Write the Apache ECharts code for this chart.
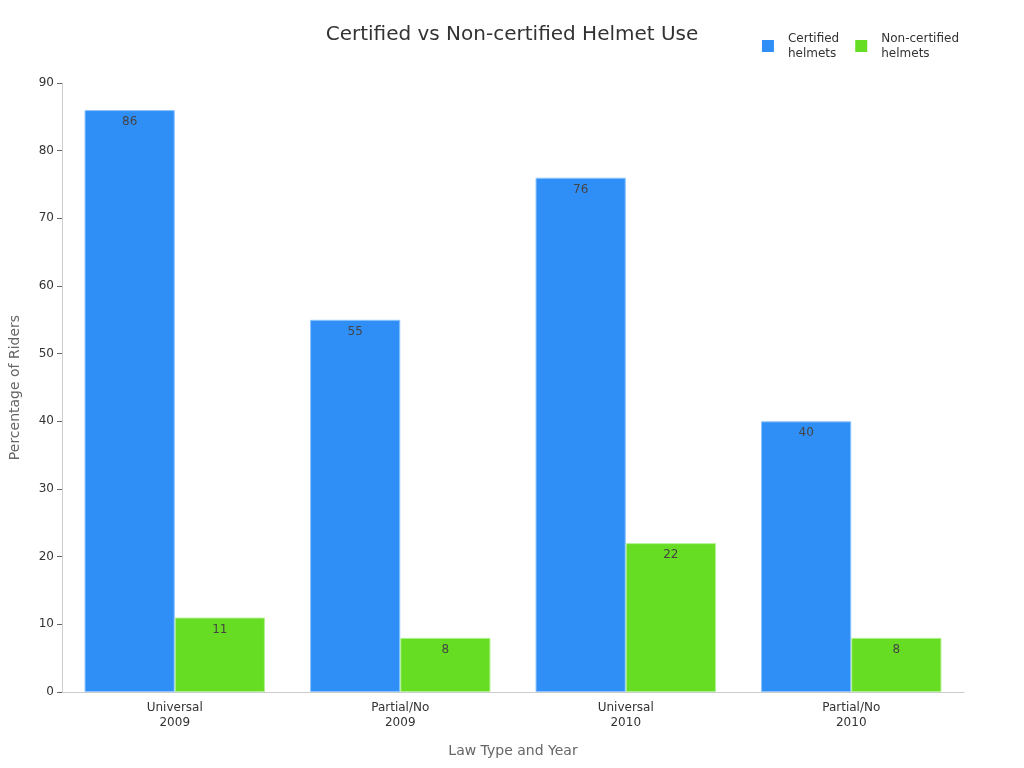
<!DOCTYPE html>
<html><head><meta charset="utf-8">
<script src="https://cdn.jsdelivr.net/npm/echarts@6/dist/echarts.min.js"></script>
<style>html,body{margin:0;padding:0;background:#fff}#c{width:1024px;height:768px}</style>
</head><body><div id="c"></div>
<script>
const categories = ["Universal\n2009", "Partial/No\n2009", "Universal\n2010", "Partial/No\n2010"];
const certified = [86, 55, 76, 40];
const nonCertified = [11, 8, 22, 8];
const seriesNames = ["Certified\nhelmets", "Non-certified\nhelmets"];
const yTicks = {min: 0, max: 90, interval: 10};

const chart = echarts.init(document.getElementById('c'));
const font = 'DejaVu Sans';
const labelCfg = {show: true, position: 'insideTop', color: '#444', fontSize: 12, fontFamily: font, distance: 6};
chart.setOption({
  animation: false,
  textStyle: {fontFamily: font},
  title: {text: 'Certified vs Non-certified Helmet Use', left: 'center', top: 20,
    textStyle: {fontSize: 20, fontWeight: 'normal', color: '#333', fontFamily: font}},
  legend: {right: 60, top: 26, itemWidth: 12, itemHeight: 12, icon: 'rect', itemGap: 16,
    itemStyle: {borderWidth: 0},
    textStyle: {fontSize: 12, color: '#333', fontFamily: font, lineHeight: 15, padding: [0, 0, 0, 9]}},
  grid: {left: 60, right: 60, top: 83, bottom: 76},
  xAxis: {type: 'category', data: categories,
    name: 'Law Type and Year', nameLocation: 'middle', nameGap: 52,
    nameTextStyle: {fontSize: 14, color: '#666', fontFamily: font},
    axisLine: {lineStyle: {color: '#ccc'}},
    axisTick: {alignWithLabel: true, lineStyle: {color: '#666'}},
    axisLabel: {fontSize: 12, color: '#333', fontFamily: font, lineHeight: 15, margin: 8}},
  yAxis: {type: 'value', min: yTicks.min, max: yTicks.max, interval: yTicks.interval,
    name: 'Percentage of Riders', nameLocation: 'middle', nameGap: 40,
    nameTextStyle: {fontSize: 14, color: '#666', fontFamily: font},
    axisLine: {show: true, lineStyle: {color: '#ccc'}},
    axisTick: {show: true, lineStyle: {color: '#666'}},
    splitLine: {show: false},
    axisLabel: {fontSize: 12, color: '#333', fontFamily: font}},
  series: [
    {name: seriesNames[0], type: 'bar', data: certified, barGap: '0%', barCategoryGap: '20%',
      itemStyle: {color: '#2f8ff7', borderColor: '#8cc4ff', borderWidth: 1}, label: labelCfg},
    {name: seriesNames[1], type: 'bar', data: nonCertified,
      itemStyle: {color: '#66dd22', borderColor: '#b0f090', borderWidth: 1}, label: labelCfg}
  ]
});
</script></body></html>
